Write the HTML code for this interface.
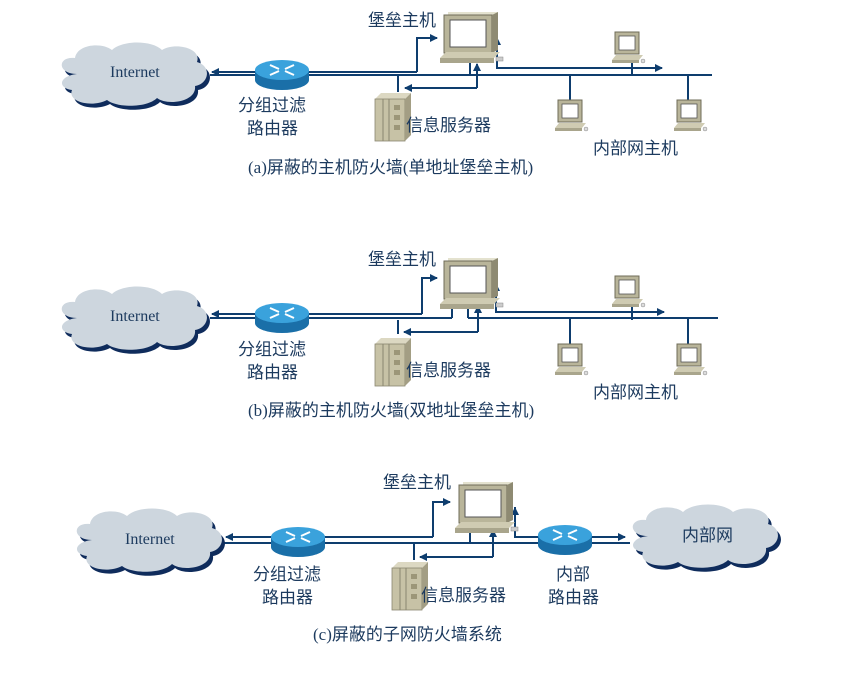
<!DOCTYPE html>
<html><head><meta charset="utf-8"><style>
html,body{margin:0;padding:0;background:#fff;}
svg{display:block;}
text{font-family:"Liberation Serif","Noto Sans CJK SC",serif;fill:#1c3a5e;}
</style></head><body>
<svg width="858" height="677" viewBox="0 0 858 677" xmlns="http://www.w3.org/2000/svg">
<defs>
<marker id="ar" markerWidth="8" markerHeight="8" refX="7" refY="4" orient="auto" markerUnits="userSpaceOnUse"><path d="M0,0 L8,4 L0,8 Z" fill="#0e3d6e"/></marker>
<g id="cloud">
  <path transform="translate(3,4)" fill="#0f2c5c" d="M20,30 C0,30 0,12 18,14 C20,0 45,-2 55,6 C65,-4 95,-4 105,6 C118,-2 145,4 140,18 C155,22 152,40 138,42 C140,58 110,62 100,54 C90,64 60,64 50,56 C35,64 10,58 15,46 C0,44 2,32 20,30 Z"/>
  <path fill="#cdd6de" d="M20,30 C0,30 0,12 18,14 C20,0 45,-2 55,6 C65,-4 95,-4 105,6 C118,-2 145,4 140,18 C155,22 152,40 138,42 C140,58 110,62 100,54 C90,64 60,64 50,56 C35,64 10,58 15,46 C0,44 2,32 20,30 Z"/>
</g>
<g id="router">
  <path d="M0,0 L0,10 A27,10 0 0 0 54,10 L54,0 Z" fill="#1a6fa8"/>
  <ellipse cx="27" cy="0" rx="27" ry="10" fill="#3aa2dc"/>
  <path d="M15,-5 L24,-1 M39,-5 L30,-1 M15,5 L24,1 M39,5 L30,1" stroke="#fff" stroke-width="2"/>
</g>
<g id="pcbig">
  <path d="M8,0 L58,0 L54,4 L8,4Z" fill="#e4e2cf"/>
  <rect x="4" y="3" width="48" height="38" fill="#b9b59a" stroke="#6f6c58" stroke-width="1"/>
  <rect x="10" y="8" width="36" height="27" fill="#fff" stroke="#555" stroke-width="1"/>
  <path d="M52,3 L58,0 L58,38 L52,41Z" fill="#8e8a72"/>
  <path d="M0,46 L6,40 L60,40 L54,46Z" fill="#cfcbb2"/>
  <rect x="0" y="46" width="54" height="5" fill="#a9a58c"/>
  <rect x="56" y="45" width="7" height="4" fill="#ccc" stroke="#888" stroke-width=".5"/>
</g>
<g id="pcsm">
  <rect x="3" y="0" width="24" height="22" fill="#b9b59a" stroke="#6f6c58" stroke-width="1"/>
  <rect x="7" y="4" width="16" height="14" fill="#fff" stroke="#555" stroke-width=".8"/>
  <path d="M0,28 L4,23 L31,23 L27,28Z" fill="#cfcbb2"/>
  <rect x="0" y="28" width="27" height="3" fill="#a9a58c"/>
  <circle cx="31" cy="29" r="2" fill="#ddd" stroke="#888" stroke-width=".5"/>
</g>
<g id="server">
  <path d="M0,6 L6,0 L36,0 L30,6Z" fill="#dcd8c2"/>
  <rect x="0" y="6" width="30" height="42" fill="#c7c2a6" stroke="#8a8670" stroke-width=".8"/>
  <path d="M30,6 L36,0 L36,42 L30,48Z" fill="#a39e84"/>
  <line x1="8" y1="6" x2="8" y2="48" stroke="#8a8670"/>
  <line x1="14" y1="6" x2="14" y2="48" stroke="#8a8670"/>
  <rect x="19" y="12" width="6" height="5" fill="#9c9678"/>
  <rect x="19" y="22" width="6" height="5" fill="#9c9678"/>
  <rect x="19" y="32" width="6" height="5" fill="#9c9678"/>
</g>
</defs>
<g stroke="#0e3d6e" stroke-width="2" fill="none">
<path d="M417,72 L212,72" marker-end="url(#ar)"/>
<path d="M417,72 L417,38 L437,38" marker-end="url(#ar)"/>
<line x1="210" y1="75" x2="712" y2="75"/>
<line x1="470" y1="58" x2="470" y2="75"/>
<path d="M477,88 L477,64" marker-end="url(#ar)"/>
<path d="M477,88 L405,88" marker-end="url(#ar)"/>
<line x1="398" y1="75" x2="398" y2="92"/>
<path d="M497,40 L497,68 L662,68" marker-end="url(#ar)"/>
<path d="M497,68 L497,38" marker-end="url(#ar)"/>
<line x1="632" y1="58" x2="632" y2="75"/>
<line x1="570" y1="75" x2="570" y2="100"/>
<line x1="688" y1="75" x2="688" y2="100"/>
<path d="M422,314 L212,314" marker-end="url(#ar)"/>
<path d="M422,314 L422,278 L437,278" marker-end="url(#ar)"/>
<line x1="210" y1="318" x2="452" y2="318"/>
<line x1="452" y1="300" x2="452" y2="318"/>
<line x1="468" y1="300" x2="468" y2="318"/>
<line x1="468" y1="318" x2="718" y2="318"/>
<path d="M478,332 L478,306" marker-end="url(#ar)"/>
<path d="M478,332 L404,332" marker-end="url(#ar)"/>
<line x1="398" y1="320" x2="398" y2="334"/>
<path d="M496,282 L496,312 L664,312" marker-end="url(#ar)"/>
<path d="M496,312 L496,284" marker-end="url(#ar)"/>
<line x1="632" y1="302" x2="632" y2="320"/>
<line x1="570" y1="318" x2="570" y2="344"/>
<line x1="688" y1="318" x2="688" y2="344"/>
<path d="M433,537 L226,537" marker-end="url(#ar)"/>
<path d="M433,537 L433,502 L450,502" marker-end="url(#ar)"/>
<line x1="224" y1="543" x2="630" y2="543"/>
<line x1="470" y1="525" x2="470" y2="543"/>
<path d="M493,557 L493,530" marker-end="url(#ar)"/>
<path d="M493,557 L420,557" marker-end="url(#ar)"/>
<line x1="414" y1="543" x2="414" y2="560"/>
<path d="M515,507 L515,537 L625,537" marker-end="url(#ar)"/>
<path d="M515,537 L515,508" marker-end="url(#ar)"/>
</g>
<use href="#cloud" x="57" y="44"/>
<use href="#router" x="255" y="70"/>
<use href="#pcbig" x="440" y="12"/>
<use href="#server" x="375" y="93"/>
<use href="#pcsm" x="612" y="32"/>
<use href="#pcsm" x="555" y="100"/>
<use href="#pcsm" x="674" y="100"/>
<use href="#cloud" x="57" y="288"/>
<use href="#router" x="255" y="313"/>
<use href="#pcbig" x="440" y="258"/>
<use href="#server" x="375" y="338"/>
<use href="#pcsm" x="612" y="276"/>
<use href="#pcsm" x="555" y="344"/>
<use href="#pcsm" x="674" y="344"/>
<use href="#cloud" x="72" y="510"/>
<use href="#router" x="271" y="537"/>
<use href="#router" x="538" y="535"/>
<use href="#cloud" x="628" y="506"/>
<use href="#pcbig" x="455" y="482"/>
<use href="#server" x="392" y="562"/>
<g font-size="17">
<text x="110" y="77" font-size="16">Internet</text>
<text x="368" y="26">堡垒主机</text>
<text x="238" y="111">分组过滤</text>
<text x="247" y="134">路由器</text>
<text x="406" y="131">信息服务器</text>
<text x="593" y="154">内部网主机</text>
<text x="248" y="173">(a)屏蔽的主机防火墙(单地址堡垒主机)</text>
<text x="110" y="321" font-size="16">Internet</text>
<text x="368" y="265">堡垒主机</text>
<text x="238" y="355">分组过滤</text>
<text x="247" y="378">路由器</text>
<text x="406" y="376">信息服务器</text>
<text x="593" y="398">内部网主机</text>
<text x="248" y="416">(b)屏蔽的主机防火墙(双地址堡垒主机)</text>
<text x="125" y="544" font-size="16">Internet</text>
<text x="383" y="488">堡垒主机</text>
<text x="253" y="580">分组过滤</text>
<text x="262" y="603">路由器</text>
<text x="421" y="601">信息服务器</text>
<text x="556" y="580">内部</text>
<text x="548" y="603">路由器</text>
<text x="682" y="541">内部网</text>
<text x="313" y="640">(c)屏蔽的子网防火墙系统</text>
</g>
</svg>
</body></html>
